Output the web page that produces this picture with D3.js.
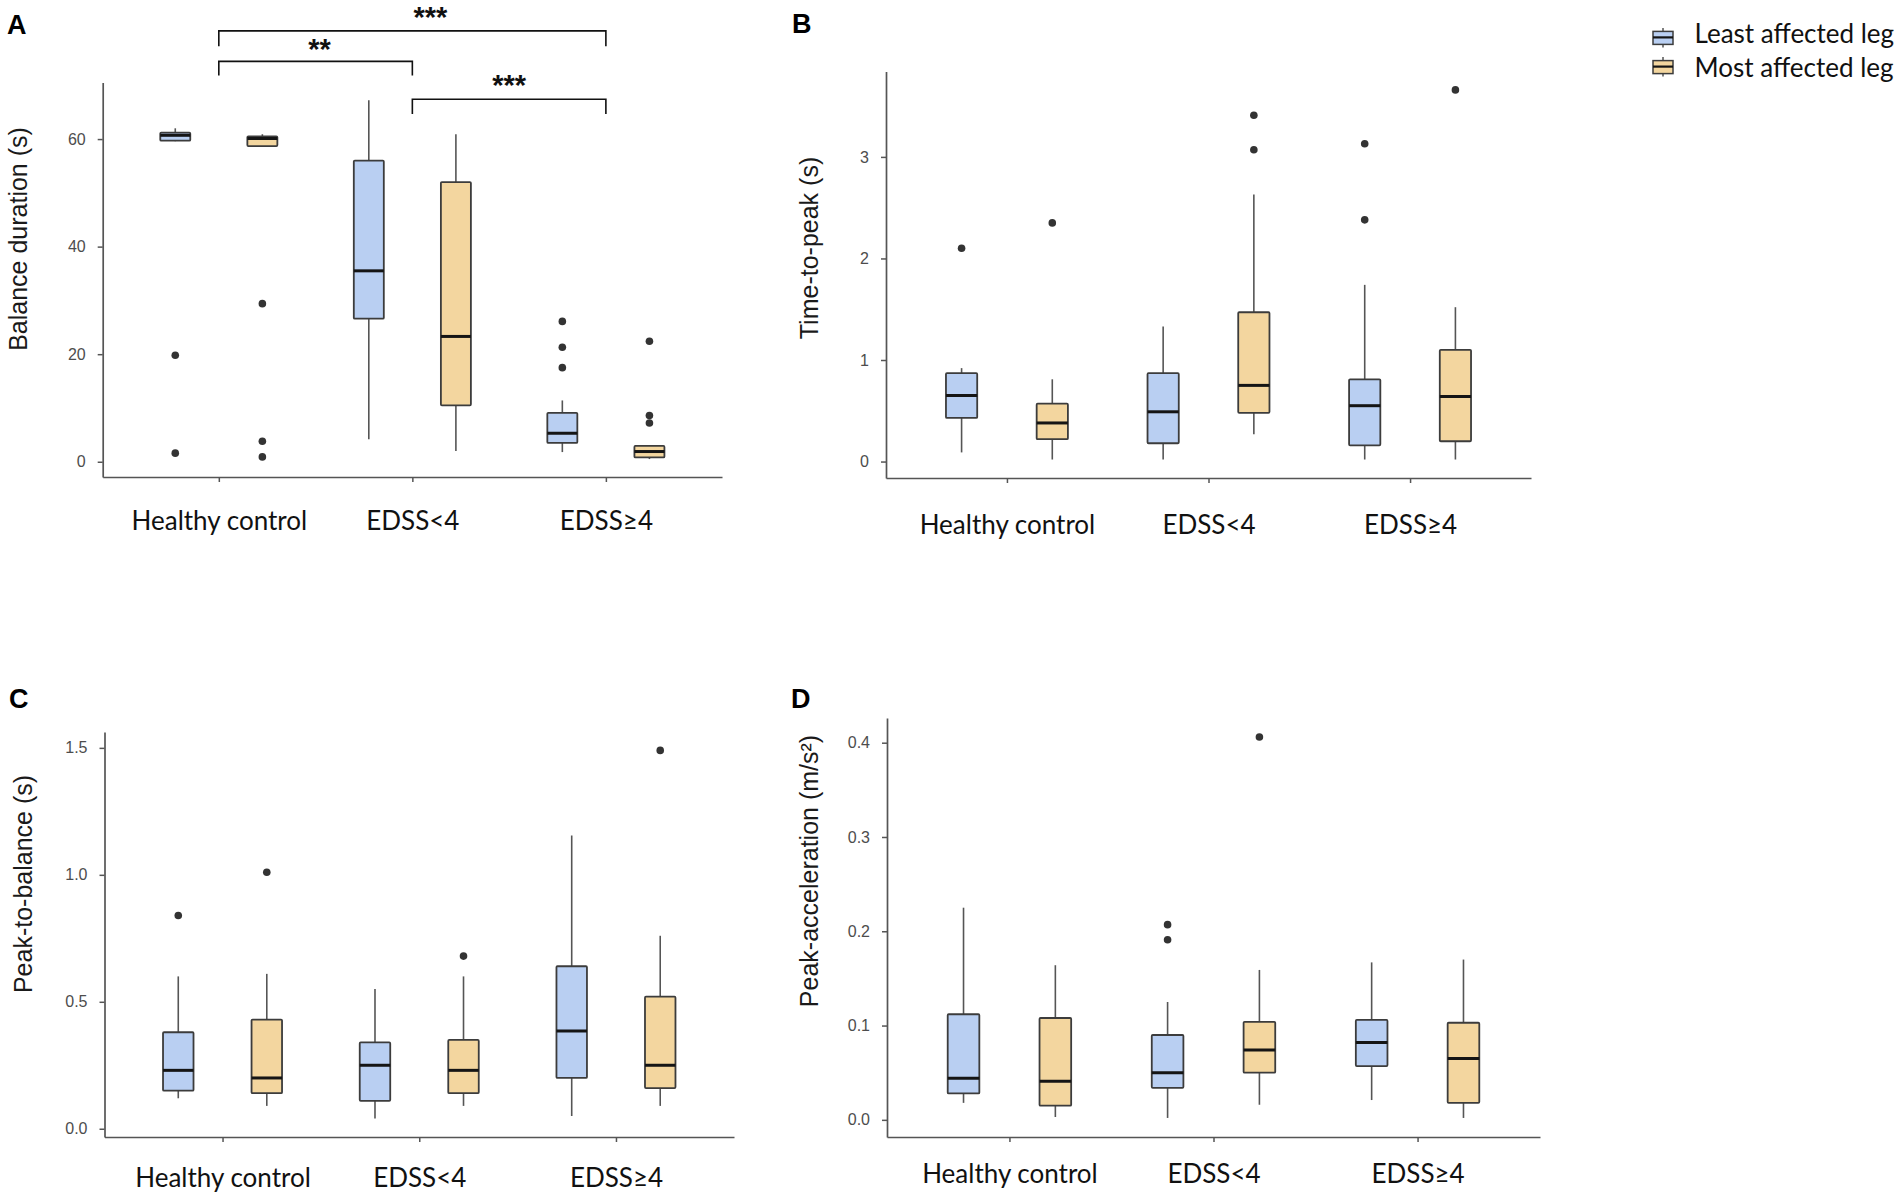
<!DOCTYPE html>
<html><head><meta charset="utf-8">
<script src="https://cdn.jsdelivr.net/npm/d3@7"></script>
<style>body{margin:0;background:#fff}svg{display:block}</style>
</head><body>
<svg id="chart" width="1902" height="1199"></svg>
<script>
// ---------------- DATA ----------------
const categories = ["Healthy control", "EDSS<4", "EDSS\u22654"];
const legs = ["Least affected leg", "Most affected leg"];

// [lower whisker, Q1, median, Q3, upper whisker] per category
const balanceLeast = [[59.6, 59.7, 60.7, 61.2, 62.0], [4.2, 26.6, 35.5, 56.0, 67.2], [1.8, 3.5, 5.3, 9.1, 11.4]];
const balanceLeastOutliers = [[19.8, 1.6], [], [26.1, 21.3, 17.5]];
const balanceMost = [[58.6, 58.7, 60.1, 60.5, 60.9], [2.0, 10.5, 23.3, 52.0, 60.9], [0.5, 0.8, 1.9, 2.95, 3.1]];
const balanceMostOutliers = [[29.4, 3.8, 0.9], [], [22.4, 8.6, 7.2]];
const balanceTicks = [0, 20, 40, 60];

const ttpLeast = [[0.09, 0.43, 0.65, 0.87, 0.92], [0.02, 0.18, 0.49, 0.87, 1.33], [0.02, 0.16, 0.55, 0.81, 1.74]];
const ttpLeastOutliers = [[2.10], [], [3.13, 2.38]];
const ttpMost = [[0.02, 0.22, 0.38, 0.57, 0.81], [0.27, 0.48, 0.75, 1.47, 2.63], [0.02, 0.20, 0.64, 1.10, 1.52]];
const ttpMostOutliers = [[2.35], [3.41, 3.07], [3.66]];
const ttpTicks = [0, 1, 2, 3];

const ptbLeast = [[0.12, 0.15, 0.23, 0.38, 0.60], [0.04, 0.11, 0.25, 0.34, 0.55], [0.05, 0.20, 0.385, 0.64, 1.155]];
const ptbLeastOutliers = [[0.84], [], []];
const ptbMost = [[0.09, 0.14, 0.20, 0.43, 0.61], [0.09, 0.14, 0.23, 0.35, 0.60], [0.09, 0.16, 0.25, 0.52, 0.76]];
const ptbMostOutliers = [[1.01], [0.68], [1.49]];
const ptbTicks = [0, 0.5, 1.0, 1.5];

const accLeast = [[0.018, 0.028, 0.044, 0.112, 0.225], [0.002, 0.034, 0.050, 0.090, 0.125], [0.021, 0.057, 0.082, 0.106, 0.167]];
const accLeastOutliers = [[], [0.207, 0.191], []];
const accMost = [[0.003, 0.015, 0.041, 0.108, 0.164], [0.016, 0.050, 0.074, 0.104, 0.159], [0.002, 0.018, 0.065, 0.103, 0.170]];
const accMostOutliers = [[], [0.406], []];
const accTicks = [0, 0.1, 0.2, 0.3, 0.4];

// significance brackets on panel A: [from category, to category, label]
const brackets = [[0, 2, "***"], [0, 1, "**"], [1, 2, "***"]];

// ---------------- STYLE / LAYOUT ----------------
const fills = ["#b9cff2", "#f3d69f"];
const panels = [
  {letter: "A", lx: 7, ly: 34, title: "Balance duration (s)", tx: 18, ty: 239,
   x0: 102.7, x1: 722, yb: 477, yt: 82.4, labY: 530, ticks: balanceTicks, fmt: d3.format("d"),
   series: [[balanceLeast, balanceLeastOutliers], [balanceMost, balanceMostOutliers]]},
  {letter: "B", lx: 792, ly: 33, title: "Time-to-peak (s)", tx: 808.6, ty: 248,
   x0: 886, x1: 1531, yb: 478, yt: 71.4, labY: 534, ticks: ttpTicks, fmt: d3.format("d"),
   series: [[ttpLeast, ttpLeastOutliers], [ttpMost, ttpMostOutliers]]},
  {letter: "C", lx: 9, ly: 708, title: "Peak-to-balance (s)", tx: 23, ty: 884,
   x0: 104.5, x1: 734, yb: 1137, yt: 732, labY: 1187, ticks: ptbTicks, fmt: d3.format(".1f"),
   series: [[ptbLeast, ptbLeastOutliers], [ptbMost, ptbMostOutliers]]},
  {letter: "D", lx: 791, ly: 708, title: "Peak-acceleration (m/s\u00b2)", tx: 809, ty: 871,
   x0: 887, x1: 1540, yb: 1137, yt: 718, labY: 1183, ticks: accTicks, fmt: d3.format(".1f"),
   series: [[accLeast, accLeastOutliers], [accMost, accMostOutliers]]}
];

const svg = d3.select("#chart");
const axisColor = "#555";

panels.forEach((p, pi) => {
  const g = svg.append("g");
  const x = d3.scalePoint().domain(categories).range([p.x0, p.x1]).padding(0.6);
  const step = x.step();
  const all = [];
  p.series.forEach(([st, out]) => { st.forEach(s => all.push(...s)); out.forEach(o => all.push(...o)); });
  const [mn, mx] = d3.extent(all);
  const pad = (mx - mn) * 0.05;
  const y = d3.scaleLinear().domain([mn - pad, mx + pad]).range([p.yb, p.yt]);

  // axes
  const ya = g.append("g").attr("transform", `translate(${p.x0},0)`)
    .call(d3.axisLeft(y).tickValues(p.ticks).tickFormat(p.fmt).tickSize(5).tickSizeOuter(0).tickPadding(12));
  ya.select(".domain").attr("stroke", axisColor).attr("stroke-width", 1.7);
  ya.selectAll(".tick line").attr("stroke", axisColor).attr("stroke-width", 1.5);
  ya.selectAll(".tick text").attr("fill", "#4d4d4d").style("font-family", "'Liberation Sans', Arial, sans-serif").style("font-size", "16px");

  const xa = g.append("g").attr("transform", `translate(0,${p.yb})`)
    .call(d3.axisBottom(x).tickSize(5).tickSizeOuter(0));
  xa.select(".domain").attr("stroke", axisColor).attr("stroke-width", 1.7);
  xa.selectAll(".tick line").attr("stroke", axisColor).attr("stroke-width", 1.5);
  xa.selectAll(".tick text").attr("y", p.labY - p.yb).attr("dy", 0).attr("fill", "#111")
    .style("font-family", "Lato, 'Open Sans', sans-serif").style("font-size", "26px");

  // boxes
  p.series.forEach(([st, out], j) => {
    const off = (j === 0 ? -1 : 1) * 0.225 * step;
    const w = 0.155 * step;
    categories.forEach((c, i) => {
      const s = st[i];
      const cx = x(c) + off;
      g.append("line").attr("x1", cx).attr("x2", cx).attr("y1", y(s[0])).attr("y2", y(s[4]))
        .attr("stroke", "#555").attr("stroke-width", 1.6);
      g.append("rect").attr("x", cx - w / 2).attr("width", w)
        .attr("y", y(s[3])).attr("height", Math.max(1, y(s[1]) - y(s[3])))
        .attr("rx", 1).attr("fill", fills[j]).attr("stroke", "#3c3c3c").attr("stroke-width", 1.8);
      g.append("line").attr("x1", cx - w / 2).attr("x2", cx + w / 2).attr("y1", y(s[2])).attr("y2", y(s[2]))
        .attr("stroke", "#151515").attr("stroke-width", 3);
      out[i].forEach(v => {
        g.append("circle").attr("cx", cx).attr("cy", y(v)).attr("r", 3.8).attr("fill", "#333");
      });
    });
  });

  // y title
  g.append("text").attr("transform", `translate(${p.tx},${p.ty}) rotate(-90)`)
    .attr("text-anchor", "middle").attr("dominant-baseline", "central")
    .style("font-family", "'Liberation Sans', Arial, sans-serif").style("font-size", "25px").attr("fill", "#1a1a1a")
    .text(p.title);

  // panel letter
  g.append("text").attr("x", p.lx).attr("y", p.ly)
    .style("font-family", "'Liberation Sans', Arial, sans-serif").style("font-size", "27px").style("font-weight", "bold")
    .attr("fill", "#000").text(p.letter);

  // significance brackets on panel A
  if (pi === 0) {
    const levels = [{h: 30.9, e: 46.3, t: 27, dx: 18}, {h: 61.4, e: 75.4, t: 58.6, dx: 4}, {h: 99.3, e: 114, t: 95, dx: 0}];
    brackets.forEach(([a, b, lab], k) => {
      const xa1 = x(categories[a]), xb1 = x(categories[b]);
      const L = levels[k];
      g.append("path").attr("d", `M${xa1},${L.e}V${L.h}H${xb1}V${L.e}`)
        .attr("fill", "none").attr("stroke", "#111").attr("stroke-width", 1.6);
      g.append("text").attr("x", (xa1 + xb1) / 2 + L.dx).attr("y", L.t).attr("text-anchor", "middle")
        .style("font-family", "'Liberation Sans', Arial, sans-serif").style("font-size", "29px").style("font-weight", "bold")
        .attr("fill", "#111").text(lab);
    });
  }
});

// legend
const lg = svg.append("g");
legs.forEach((name, j) => {
  const top = 27.9 + j * 29.2;
  const cx = 1663;
  lg.append("line").attr("x1", cx).attr("x2", cx).attr("y1", top).attr("y2", top + 19.5).attr("stroke", "#555").attr("stroke-width", 1.5);
  lg.append("rect").attr("x", cx - 10).attr("y", top + 3.5).attr("width", 20).attr("height", 13)
    .attr("fill", fills[j]).attr("stroke", "#3c3c3c").attr("stroke-width", 1.5);
  lg.append("line").attr("x1", cx - 10).attr("x2", cx + 10).attr("y1", top + 9.5).attr("y2", top + 9.5).attr("stroke", "#151515").attr("stroke-width", 2.2);
  lg.append("text").attr("x", 1694.5).attr("y", 42.9 + j * 33.9)
    .style("font-family", "Lato, 'Open Sans', sans-serif").style("font-size", "26px").attr("fill", "#111").text(name);
});
</script>
</body></html>
